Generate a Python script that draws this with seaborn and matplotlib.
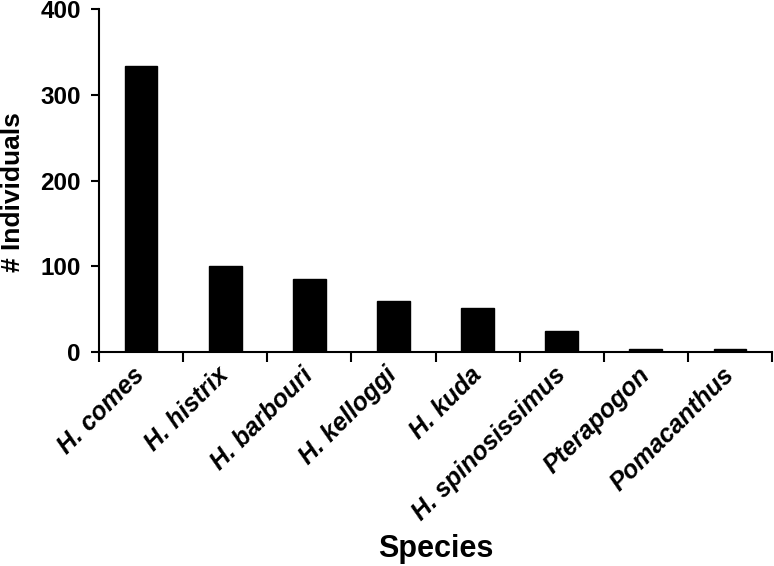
import matplotlib
matplotlib.use("Agg")
import matplotlib.pyplot as plt
import matplotlib.transforms as mtrans
import seaborn as sns
import pandas as pd
import numpy as np

species = ["H. comes", "H. histrix", "H. barbouri", "H. kelloggi", "H. kuda",
           "H. spinosissimus", "Pterapogon", "Pomacanthus"]
individuals = [334, 100, 85, 60, 51, 24, 3, 3]
yticks = [0, 100, 200, 300, 400]

sns.set_theme(style="ticks")
plt.rcParams['font.family'] = ['Liberation Sans', 'DejaVu Sans']
plt.rcParams['text.color'] = 'black'
plt.rcParams['axes.labelcolor'] = 'black'
plt.rcParams['xtick.color'] = 'black'
plt.rcParams['ytick.color'] = 'black'

df = pd.DataFrame({"Species": species, "Individuals": individuals})

fig = plt.figure(figsize=(7.74, 5.66), dpi=100)
ax = fig.add_axes([99/774, 1 - 352/566, 673/774, 343/566])

sns.barplot(data=df, x="Species", y="Individuals", color="black",
            width=0.39, saturation=1, ax=ax, edgecolor="black")

ax.set_ylim(0, 400)
ax.set_xlim(-0.5, len(species) - 0.5)
ax.set_yticks(yticks)
ax.set_yticklabels([str(v) for v in yticks], fontsize=17.5, fontweight="bold")
yoff = mtrans.ScaledTranslation(0, -3/100, fig.dpi_scale_trans)
for lab in ax.get_yticklabels():
    lab.set_transform(lab.get_transform() + yoff)

ax.set_xticks(np.arange(len(species)))
ax.set_xticklabels(species, rotation=45, ha="right", va="center",
                   rotation_mode="anchor", fontsize=18, fontweight="bold",
                   fontstyle="italic")
xoff = mtrans.ScaledTranslation(11/100, -3/100, fig.dpi_scale_trans)
for lab in ax.get_xticklabels():
    lab.set_transform(lab.get_transform() + xoff)
ax.tick_params(axis="x", which="major", length=0, pad=14)
ax.set_xticks(np.arange(len(species) + 1) - 0.5, minor=True)
ax.tick_params(axis="x", which="minor", length=7, width=1.5, direction="out")
ax.tick_params(axis="y", length=6, width=1.5, direction="out", pad=7)

for s in ["top", "right"]:
    ax.spines[s].set_visible(False)
for s in ["left", "bottom"]:
    ax.spines[s].set_linewidth(1.5)
    ax.spines[s].set_color("black")

ax.set_xlabel("Species", fontsize=22, fontweight="bold")
ax.set_ylabel("# Individuals", fontsize=19, fontweight="bold")
ax.xaxis.set_label_coords((436 - 99) / 673, (352 - 534) / 343)
ax.yaxis.set_label_coords((25 - 99) / 673, (352 - 192) / 343)

fig.savefig("out.png", dpi=100)
